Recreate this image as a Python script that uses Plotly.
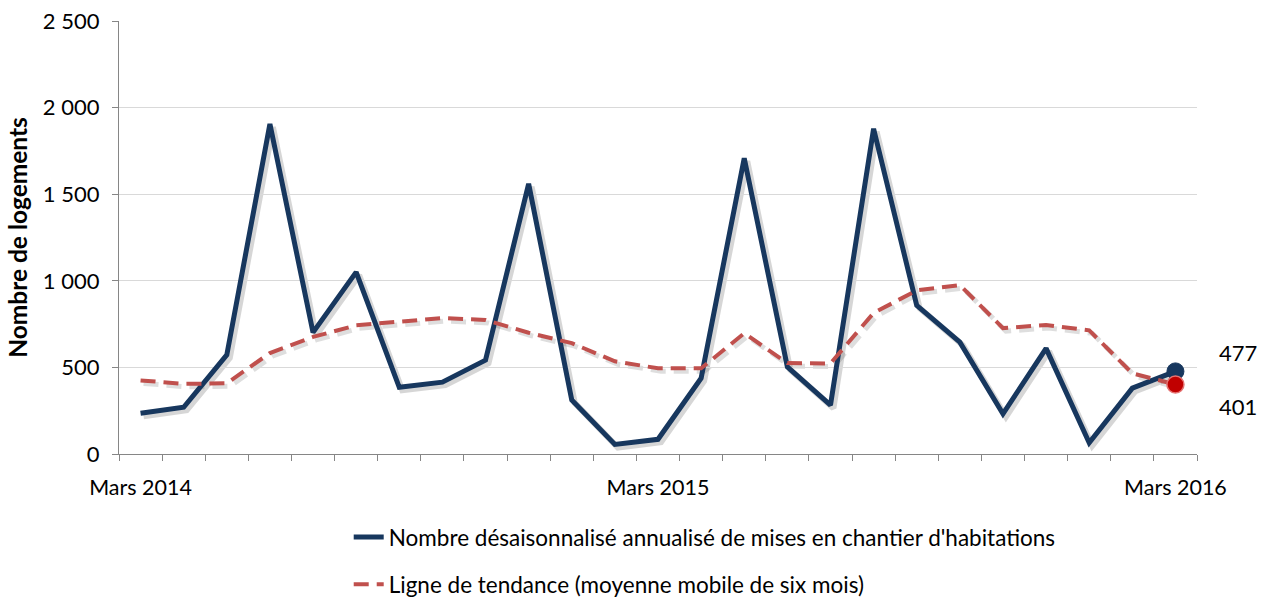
import plotly.graph_objects as go

# ---- data ----
months = list(range(25))  # Mars 2014 .. Mars 2016 (monthly)
tick_positions = [0, 12, 24]
tick_labels = ["Mars 2014", "Mars 2015", "Mars 2016"]

mises_en_chantier = [235, 270, 572, 1905, 702, 1050, 385, 415, 542, 1560, 312,
                     55, 85, 438, 1708, 503, 282, 1878, 858, 646, 232, 610, 65, 380, 477]
tendance = [425, 405, 408, 583, 676, 743, 764, 785, 774, 700, 640, 535, 495,
            495, 697, 525, 523, 814, 945, 975, 727, 745, 714, 466, 401]

name_blue = "Nombre désaisonnalisé annualisé de mises en chantier d'habitations"
name_red = "Ligne de tendance (moyenne mobile de six mois)"

BLUE = "#17375E"
RED = "#C0504D"
FONT = "Lato"

W, H = 1264, 599
ml, mr, mt, mb = 119, 64, 21, 142
pw = W - ml - mr
ph = H - mt - mb
dx, dy = 3, 3

fig = go.Figure()

# shadows (drawn on offset, hidden axes)
fig.add_trace(go.Scatter(x=months, y=tendance, mode="lines", xaxis="x", yaxis="y",
                         line=dict(color="rgba(0,0,0,0.13)", width=5, dash="15px,8px"),
                         showlegend=False, hoverinfo="skip"))
fig.add_trace(go.Scatter(x=months, y=mises_en_chantier, mode="lines", xaxis="x", yaxis="y",
                         line=dict(color="rgba(0,0,0,0.16)", width=6),
                         showlegend=False, hoverinfo="skip"))

# main series
fig.add_trace(go.Scatter(x=months, y=mises_en_chantier, mode="lines", name=name_blue,
                         xaxis="x2", yaxis="y2", legendgroup="a",
                         line=dict(color=BLUE, width=5)))
fig.add_trace(go.Scatter(x=months, y=tendance, mode="lines", name=name_red,
                         xaxis="x2", yaxis="y2", legendgroup="b",
                         line=dict(color=RED, width=4, dash="15px,8px")))

# end markers
fig.add_trace(go.Scatter(x=[months[-1]], y=[mises_en_chantier[-1]], mode="markers",
                         xaxis="x2", yaxis="y2", showlegend=False,
                         marker=dict(color=BLUE, size=17, line=dict(color=BLUE, width=1))))
fig.add_trace(go.Scatter(x=[months[-1]], y=[tendance[-1]], mode="markers",
                         xaxis="x2", yaxis="y2", showlegend=False,
                         marker=dict(color="#C00000", size=17, line=dict(color="#E57373", width=1.5))))

fig.add_annotation(x=months[-1], y=mises_en_chantier[-1], xref="x2", yref="y2",
                   text=str(mises_en_chantier[-1]), showarrow=False, xshift=63, yshift=19,
                   font=dict(family=FONT, size=22, color="#000"))
fig.add_annotation(x=months[-1], y=tendance[-1], xref="x2", yref="y2",
                   text=str(tendance[-1]), showarrow=False, xshift=63, yshift=-22,
                   font=dict(family=FONT, size=22, color="#000"))

xr = [-0.5, 24.5]
yr = [0, 2500]

fig.update_layout(
    width=W, height=H,
    margin=dict(l=ml, r=mr, t=mt, b=mb, autoexpand=False),
    paper_bgcolor="white", plot_bgcolor="rgba(0,0,0,0)",
    separators=", ",
    font=dict(family=FONT, size=22, color="#000"),
    xaxis=dict(domain=[dx / pw, 1], range=xr, visible=False, anchor="y"),
    yaxis=dict(domain=[0, 1 - dy / ph], range=yr, visible=False, anchor="x"),
    xaxis2=dict(domain=[0, 1 - dx / pw], range=xr, anchor="y2", automargin=False,
                tickmode="array", tickvals=tick_positions, ticktext=tick_labels,
                ticks="", showgrid=False, zeroline=False,
                showline=True, linecolor="#868686", linewidth=1.3,
                tickfont=dict(family=FONT, size=21.5), ticklabelstandoff=14,
                minor=dict(tick0=-0.5, dtick=1, ticks="outside", ticklen=6,
                           tickcolor="#868686", tickwidth=1.3, showgrid=False)),
    yaxis2=dict(domain=[dy / ph, 1], range=yr, anchor="x2", automargin=False,
                tickmode="linear", tick0=0, dtick=500, tickformat=",d",
                ticks="outside", ticklen=6, tickcolor="#868686", tickwidth=1.3,
                showgrid=True, gridcolor="#D9D9D9", gridwidth=1.3, zeroline=False,
                showline=True, linecolor="#868686", linewidth=1.3,
                tickfont=dict(family=FONT, size=22), ticklabelstandoff=8,
                title=dict(text="<b>Nombre de logements</b>", standoff=8,
                           font=dict(family=FONT, size=24.5))),
    legend=dict(x=0.2125, xanchor="left", y=-0.135, yanchor="top",
                orientation="v", tracegroupgap=15,
                font=dict(family=FONT, size=22.5), bgcolor="rgba(0,0,0,0)"),
    showlegend=True,
)

fig.write_html("out.html", config={"displayModeBar": False},
               post_script="document.body.style.margin='0';document.body.style.overflow='hidden';")
